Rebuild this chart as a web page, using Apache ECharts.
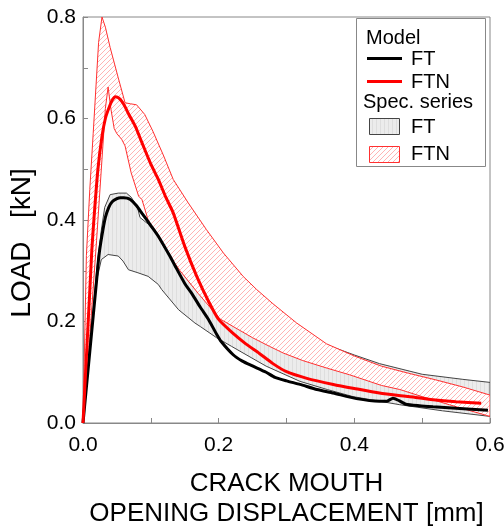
<!DOCTYPE html>
<html>
<head>
<meta charset="utf-8">
<script src="https://cdn.jsdelivr.net/npm/echarts@6/dist/echarts.min.js"></script>
<style>
  html, body { margin: 0; padding: 0; background: #fff; }
  #chart { width: 504px; height: 526px; }
</style>
</head>
<body>
<div id="chart"></div>
<script>
// Tick labels
const xTickLabels = ['0.0', '0.2', '0.4', '0.6'];
const yTickLabels = ['0.0', '0.2', '0.4', '0.6', '0.8'];

// Model curves: CMOD [mm] vs load [kN]
const modelFtX = [0, 0.005, 0.01, 0.015, 0.02, 0.0235, 0.028, 0.033, 0.038, 0.043, 0.05, 0.055, 0.06, 0.065, 0.07, 0.079, 0.087, 0.1, 0.111, 0.128, 0.136, 0.15, 0.16, 0.173, 0.185, 0.197, 0.204, 0.221, 0.235, 0.249, 0.27, 0.283, 0.3, 0.32, 0.345, 0.369, 0.403, 0.437, 0.448, 0.457, 0.466, 0.476, 0.496, 0.516, 0.55, 0.597];
const modelFtY = [0, 0.07, 0.14, 0.21, 0.28, 0.33, 0.37, 0.405, 0.425, 0.436, 0.442, 0.444, 0.444, 0.443, 0.44, 0.428, 0.413, 0.389, 0.368, 0.329, 0.309, 0.275, 0.256, 0.228, 0.204, 0.175, 0.16, 0.135, 0.122, 0.113, 0.1, 0.09, 0.083, 0.076, 0.066, 0.059, 0.048, 0.043, 0.043, 0.049, 0.044, 0.037, 0.034, 0.032, 0.029, 0.025];

const modelFtnX = [0, 0.005, 0.01, 0.013, 0.016, 0.022, 0.028, 0.033, 0.038, 0.043, 0.048, 0.053, 0.06, 0.068, 0.077, 0.087, 0.1, 0.111, 0.122, 0.133, 0.15, 0.168, 0.185, 0.2, 0.22, 0.24, 0.26, 0.28, 0.3, 0.33, 0.369, 0.4, 0.437, 0.48, 0.516, 0.55, 0.587];
const modelFtnY = [0, 0.13, 0.26, 0.34, 0.4, 0.5, 0.565, 0.6, 0.62, 0.636, 0.643, 0.64, 0.628, 0.607, 0.585, 0.552, 0.51, 0.48, 0.445, 0.414, 0.348, 0.288, 0.24, 0.204, 0.178, 0.156, 0.137, 0.117, 0.101, 0.088, 0.076, 0.068, 0.059, 0.052, 0.046, 0.042, 0.039];

// Specimen series envelopes (upper and lower bounds)
const specFtUpperX = [0, 0.01, 0.02, 0.027, 0.032, 0.04, 0.052, 0.064, 0.071, 0.078, 0.081, 0.084, 0.096, 0.11, 0.128, 0.143, 0.16, 0.18, 0.2, 0.25, 0.3, 0.359, 0.4, 0.437, 0.5, 0.56, 0.6];
const specFtUpperY = [0, 0.15, 0.3, 0.38, 0.425, 0.45, 0.453, 0.453, 0.445, 0.43, 0.421, 0.405, 0.392, 0.37, 0.335, 0.302, 0.272, 0.252, 0.236, 0.205, 0.18, 0.154, 0.134, 0.117, 0.096, 0.086, 0.08];
const specFtLowerX = [0, 0.01, 0.02, 0.027, 0.037, 0.052, 0.059, 0.067, 0.081, 0.096, 0.111, 0.116, 0.141, 0.165, 0.173, 0.197, 0.219, 0.249, 0.27, 0.32, 0.36, 0.398, 0.467, 0.53, 0.6];
const specFtLowerY = [0, 0.14, 0.28, 0.322, 0.332, 0.329, 0.319, 0.302, 0.296, 0.289, 0.273, 0.263, 0.223, 0.197, 0.19, 0.168, 0.151, 0.128, 0.112, 0.082, 0.066, 0.052, 0.036, 0.024, 0.013];

const specFtnUpperX = [0, 0.005, 0.01, 0.015, 0.019, 0.023, 0.028, 0.033, 0.04, 0.052, 0.062, 0.07, 0.079, 0.091, 0.103, 0.119, 0.133, 0.155, 0.182, 0.207, 0.236, 0.256, 0.28, 0.315, 0.359, 0.4, 0.44, 0.48, 0.52, 0.56, 0.6];
const specFtnUpperY = [0, 0.33, 0.46, 0.57, 0.66, 0.75, 0.8, 0.78, 0.74, 0.68, 0.631, 0.629, 0.627, 0.608, 0.575, 0.526, 0.48, 0.434, 0.381, 0.335, 0.289, 0.263, 0.235, 0.197, 0.156, 0.132, 0.112, 0.098, 0.085, 0.071, 0.055];
const specFtnLowerX = [0, 0.01, 0.02, 0.028, 0.033, 0.037, 0.041, 0.046, 0.05, 0.057, 0.062, 0.071, 0.082, 0.087, 0.096, 0.12, 0.143, 0.17, 0.202, 0.25, 0.275, 0.295, 0.324, 0.36, 0.393, 0.44, 0.467, 0.5, 0.54, 0.6];
const specFtnLowerY = [0, 0.17, 0.36, 0.52, 0.62, 0.662, 0.62, 0.58, 0.57, 0.559, 0.546, 0.493, 0.447, 0.44, 0.4, 0.345, 0.3, 0.255, 0.205, 0.168, 0.151, 0.138, 0.123, 0.108, 0.095, 0.074, 0.066, 0.052, 0.036, 0.013];

const FONT = 'Liberation Sans, Arial, Helvetica, sans-serif';

// Fill textures: hatched red band and lightly streaked grey band
function makeHatch() {
  const c = document.createElement('canvas');
  c.width = 5; c.height = 5;
  const g = c.getContext('2d');
  g.fillStyle = '#ffffff';
  g.fillRect(0, 0, 5, 5);
  g.strokeStyle = '#ffb4b4';
  g.lineWidth = 1;
  g.beginPath();
  g.moveTo(-1, 6); g.lineTo(6, -1);
  g.moveTo(-1, 1); g.lineTo(1, -1);
  g.moveTo(4, 6); g.lineTo(6, 4);
  g.stroke();
  return c;
}
function makeGrey() {
  const c = document.createElement('canvas');
  c.width = 4; c.height = 4;
  const g = c.getContext('2d');
  g.fillStyle = '#ececec';
  g.fillRect(0, 0, 4, 4);
  g.fillStyle = '#dedede';
  g.fillRect(0, 0, 1, 4);
  return c;
}
const hatchFill = { image: makeHatch(), repeat: 'repeat' };
const greyFill = { image: makeGrey(), repeat: 'repeat' };

function pairs(xs, ys) { return xs.map((x, i) => [x, ys[i]]); }

function bandSeries(name, ux, uy, lx, ly, fill, stroke, z) {
  return {
    type: 'custom',
    name: name,
    z: z,
    clip: true,
    silent: true,
    data: [[0, 0]],
    renderItem: function (params, api) {
      const pts = [];
      for (let i = 0; i < ux.length; i++) pts.push(api.coord([ux[i], uy[i]]));
      for (let i = lx.length - 1; i >= 0; i--) pts.push(api.coord([lx[i], ly[i]]));
      return {
        type: 'polygon',
        shape: { points: pts },
        style: { fill: fill, stroke: stroke, lineWidth: 1 }
      };
    }
  };
}

function tickFormatter(labels) {
  return function (v) {
    const s = v.toFixed(1);
    return labels.indexOf(s) >= 0 ? s : '';
  };
}

const axisCommon = {
  type: 'value',
  interval: 0.1,
  axisLine: { show: true, lineStyle: { color: '#888', width: 1 } },
  axisTick: { show: true, inside: true, length: 5, lineStyle: { color: '#888' } },
  splitLine: { show: false },
  axisLabel: { color: '#000', fontSize: 21, fontFamily: FONT }
};

const chart = echarts.init(document.getElementById('chart'));

const legendItems = [
  { type: 'rect', shape: { x: 356.5, y: 18.5, width: 129, height: 148 }, style: { fill: '#fff', stroke: '#888', lineWidth: 1 } },
  { type: 'text', x: 366, y: 38, style: { text: 'Model', font: '20px ' + FONT, fill: '#000', verticalAlign: 'middle' } },
  { type: 'line', shape: { x1: 367, y1: 58.5, x2: 402, y2: 58.5 }, style: { stroke: '#000', lineWidth: 3 } },
  { type: 'text', x: 411, y: 59, style: { text: 'FT', font: '20px ' + FONT, fill: '#000', verticalAlign: 'middle' } },
  { type: 'line', shape: { x1: 367, y1: 81.5, x2: 402, y2: 81.5 }, style: { stroke: '#ff0000', lineWidth: 3 } },
  { type: 'text', x: 411, y: 82, style: { text: 'FTN', font: '20px ' + FONT, fill: '#000', verticalAlign: 'middle' } },
  { type: 'text', x: 363, y: 102, style: { text: 'Spec. series', font: '20px ' + FONT, fill: '#000', verticalAlign: 'middle' } },
  { type: 'rect', shape: { x: 369.5, y: 118.5, width: 30, height: 16 }, style: { fill: greyFill, stroke: '#444', lineWidth: 1 } },
  { type: 'text', x: 411, y: 127, style: { text: 'FT', font: '20px ' + FONT, fill: '#000', verticalAlign: 'middle' } },
  { type: 'rect', shape: { x: 369.5, y: 146.5, width: 30, height: 16 }, style: { fill: hatchFill, stroke: '#ff3030', lineWidth: 1 } },
  { type: 'text', x: 411, y: 154, style: { text: 'FTN', font: '20px ' + FONT, fill: '#000', verticalAlign: 'middle' } }
];

chart.setOption({
  animation: false,
  backgroundColor: '#fff',
  grid: {
    left: 83, right: 14, top: 17, bottom: 103,
    outerBoundsMode: 'none',
    show: true, borderColor: '#888', borderWidth: 1, backgroundColor: 'transparent'
  },
  xAxis: Object.assign({}, axisCommon, {
    min: 0, max: 0.6,
    axisLabel: Object.assign({}, axisCommon.axisLabel, { margin: 12, formatter: tickFormatter(xTickLabels) }),
    name: 'CRACK MOUTH\nOPENING DISPLACEMENT [mm]',
    nameLocation: 'middle',
    nameGap: 46,
    nameTextStyle: { color: '#000', fontSize: 26, fontFamily: FONT, lineHeight: 30 }
  }),
  yAxis: Object.assign({}, axisCommon, {
    min: 0, max: 0.8,
    axisLabel: Object.assign({}, axisCommon.axisLabel, { margin: 7, formatter: tickFormatter(yTickLabels) }),
    name: 'LOAD   [kN]',
    nameLocation: 'middle',
    nameGap: 46,
    nameTextStyle: { color: '#000', fontSize: 28, fontFamily: FONT, padding: [0, 46, 0, 0] }
  }),
  series: [
    bandSeries('Spec. FT', specFtUpperX, specFtUpperY, specFtLowerX, specFtLowerY, greyFill, '#444', 1),
    bandSeries('Spec. FTN', specFtnUpperX, specFtnUpperY, specFtnLowerX, specFtnLowerY, hatchFill, '#ff3030', 2),
    {
      type: 'line', name: 'Model FT', z: 3,
      data: pairs(modelFtX, modelFtY),
      showSymbol: false, smooth: 0.2,
      lineStyle: { color: '#000', width: 3 }
    },
    {
      type: 'line', name: 'Model FTN', z: 4,
      data: pairs(modelFtnX, modelFtnY),
      showSymbol: false, smooth: 0.2,
      lineStyle: { color: '#ff0000', width: 3 }
    }
  ],
  graphic: [{ type: 'group', z: 100, children: legendItems }]
});
</script>
</body>
</html>
